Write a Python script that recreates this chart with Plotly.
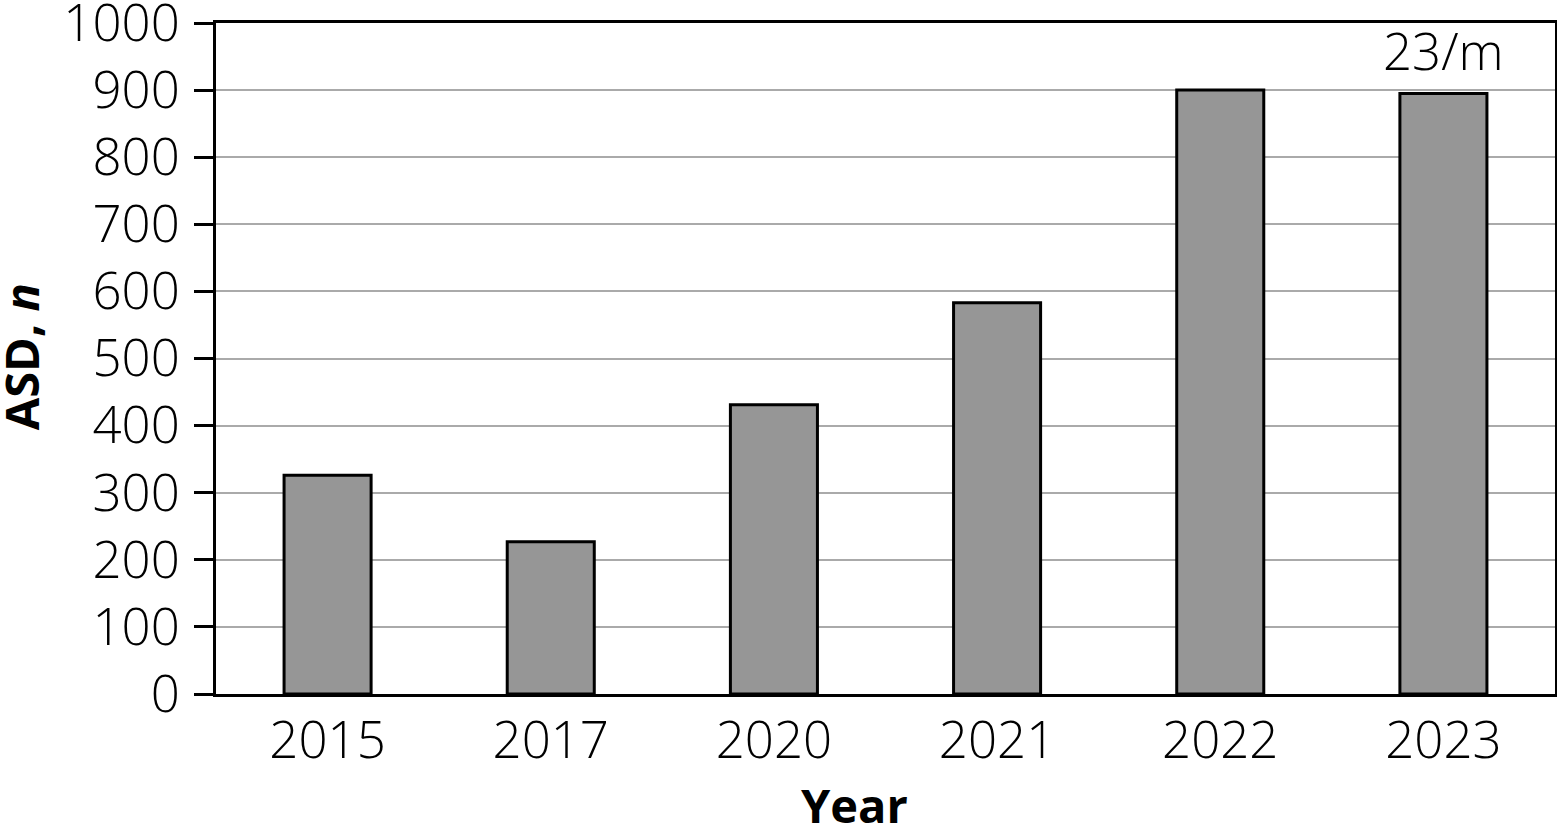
import plotly.graph_objects as go

years = ["2015", "2017", "2020", "2021", "2022", "2023"]
asd_counts = [326, 227, 431, 583, 900, 895]
y_ticks = [0, 100, 200, 300, 400, 500, 600, 700, 800, 900, 1000]
note_text = "23/m"
note_value = 960
x_title = "<b>Year</b>"
y_title = "<b>ASD, <i>n</i></b>"

FONT = "Open Sans"
TS = 51

fig = go.Figure()
fig.add_trace(go.Bar(
    x=years, y=asd_counts, width=0.39,
    marker=dict(color="#969696", line=dict(color="black", width=3)),
))

fig.add_annotation(x=len(years) - 1, y=note_value, text=note_text, showarrow=False,
                   font=dict(family=FONT, size=TS, color="black", weight=300),
                   xref="x", yref="y")

# axis titles as annotations (automargin is off, so title standoff is ignored)
fig.add_annotation(x=0.477, y=-0.165, xref="paper", yref="paper", text=x_title,
                   showarrow=False, xanchor="center", yanchor="middle",
                   font=dict(family=FONT, size=47, color="black"))
fig.add_annotation(x=-0.1456, y=0.502, xref="paper", yref="paper", text=y_title,
                   showarrow=False, xanchor="center", yanchor="middle", textangle=-90,
                   font=dict(family=FONT, size=47, color="black"))

fig.update_layout(
    width=1557, height=825,
    margin=dict(l=216, r=2, t=23, b=131),
    plot_bgcolor="white", paper_bgcolor="white",
    showlegend=False,
)
fig.update_xaxes(
    type="category", range=[-0.5, 5.5], automargin=False,
    showline=True, linecolor="black", linewidth=3, mirror=True,
    ticks="", showgrid=False, ticklabeloverflow="allow", ticklabelstandoff=0,
    tickfont=dict(family=FONT, size=TS, color="black", weight=300),
)
fig.update_yaxes(
    range=[0, 1000], tickvals=y_ticks, automargin=False,
    showline=True, linecolor="black", linewidth=3, mirror=True,
    ticks="outside", ticklen=19, tickwidth=3, tickcolor="black",
    showgrid=True, gridcolor="#aaaaaa", gridwidth=2, zeroline=False,
    ticklabeloverflow="allow", ticklabelstandoff=4,
    tickfont=dict(family=FONT, size=TS, color="black", weight=300),
)

fig.write_html(
    "out.html",
    config={"displayModeBar": False},
    post_script="document.body.style.margin='0';document.body.style.overflow='hidden';",
)
